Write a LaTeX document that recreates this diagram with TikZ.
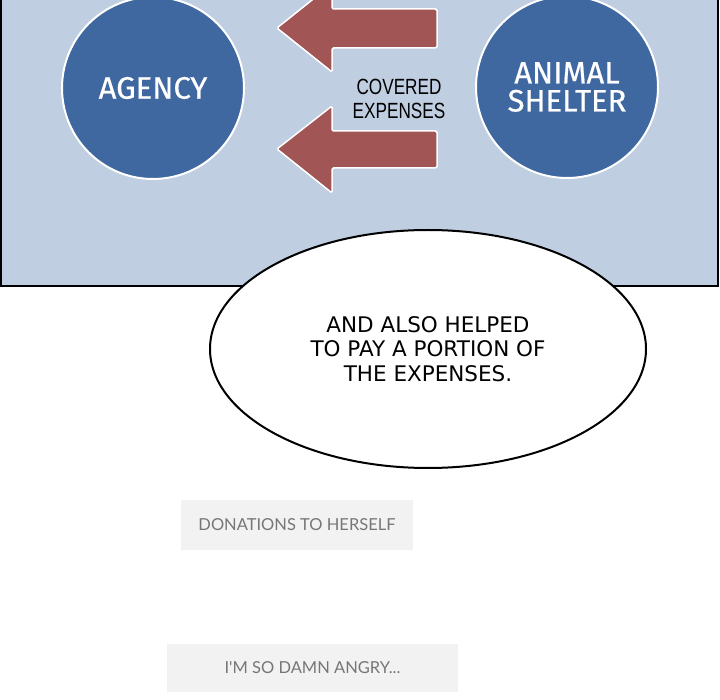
\documentclass[tikz,border=0pt]{standalone}
\usepackage{fontspec}
\usetikzlibrary{shapes.geometric}
\setmainfont{Open Sans}
\newfontfamily\circfont[FakeBold=0.6]{Fira Sans}
\newfontfamily\condfont[FakeStretch=0.78]{Liberation Sans}
\newfontfamily\bubblefont{DejaVu Sans}
\newfontfamily\capfont{Lato}
\definecolor{panelblue}{HTML}{BFCEE1}
\definecolor{circblue}{HTML}{3F67A0}
\definecolor{arrowred}{HTML}{A15555}
\definecolor{boxgray}{HTML}{F2F2F2}
\definecolor{textgray}{HTML}{767676}
\tikzset{
  circnode/.style={circle, fill=circblue, draw=white, line width=2pt, text=white,
    minimum size=182pt, inner sep=0pt, align=center,
    font=\circfont\fontsize{31}{28}\selectfont},
  blockarrow/.style={fill=arrowred, draw=white, line width=1.5pt, rounded corners=1.5pt},
  bubblenode/.style={ellipse, draw=black, fill=white, line width=2pt,
    minimum width=436pt, minimum height=238pt, inner sep=0pt, align=center,
    font=\bubblefont\fontsize{21.5}{24.5}\selectfont},
  graybox/.style={rectangle, fill=boxgray, inner sep=0pt, text=textgray,
    font=\capfont\fontsize{16.5}{18}\selectfont}
}
\begin{document}
\begin{tikzpicture}[x=1pt,y=-1pt]
\useasboundingbox (0,0) rectangle (720,700);
\fill[white] (0,0) rectangle (720,700);
% panel
\fill[panelblue] (1,-5) rectangle (718,286);
\draw[line width=2pt] (1,-5) -- (1,286) -- (718,286) -- (718,-5);
% circles
\node[circnode] (agency) at (153,88) {AGENCY};
\node[circnode] (shelter) at (567,87) {ANIMAL\\SHELTER};
% arrows
\draw[blockarrow] (437,9) -- (332,9) -- (332,-16) -- (277,28) -- (332,72) -- (332,48) -- (437,48) -- cycle;
\draw[blockarrow] (437,131) -- (332,131) -- (332,106) -- (277,149) -- (332,193) -- (332,168) -- (437,168) -- cycle;
\node[align=center, font=\condfont\fontsize{22}{24}\selectfont, inner sep=0pt] (covered) at (399,99) {COVERED\\EXPENSES};
% bubble
\node[bubblenode] (bubble) at (428,349) {AND ALSO HELPED\\TO PAY A PORTION OF\\THE EXPENSES.};
% gray boxes
\node[graybox, minimum width=232pt, minimum height=50pt] (donations) at (297,525) {DONATIONS TO HERSELF};
\node[graybox, minimum width=291pt, minimum height=48pt] (angry) at (312.5,668) {I'M SO DAMN ANGRY...};
\end{tikzpicture}
\end{document}
